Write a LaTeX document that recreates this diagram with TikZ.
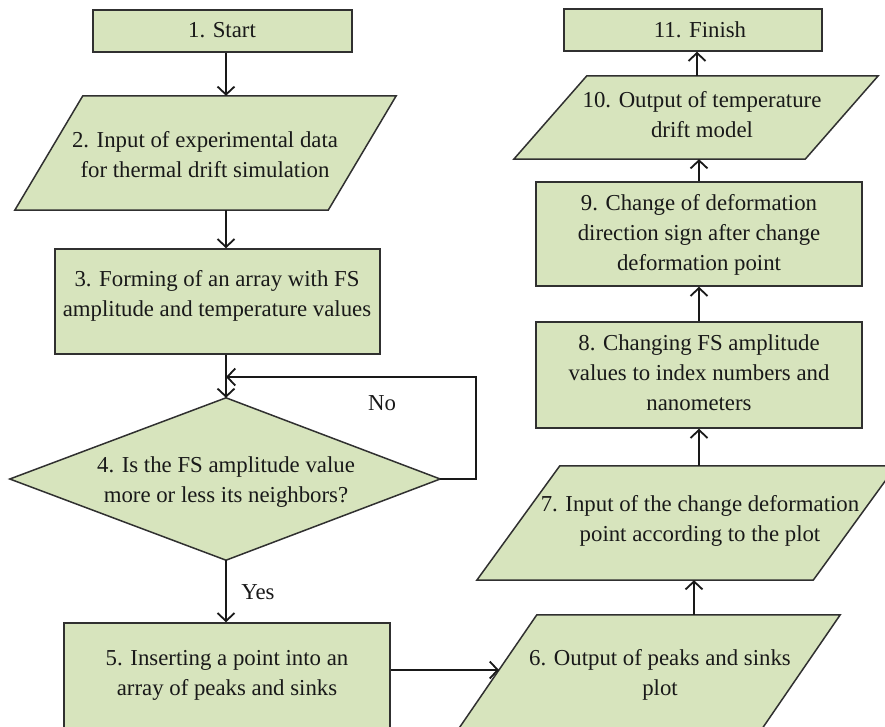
\documentclass[tikz,border=0pt]{standalone}
\usepackage{fontspec}
\setmainfont{Liberation Serif}
\usetikzlibrary{arrows.meta,backgrounds}
\definecolor{boxfill}{HTML}{D7E4BD}
\definecolor{edge}{HTML}{303030}
\tikzset{
  shp/.style={draw=edge, line width=1.5pt, fill=boxfill},
  bx/.style={shp, rectangle, inner sep=0pt},
  frame/.style={rectangle, draw=none, inner sep=0pt},
  txt/.style={align=center, inner sep=0pt, font=\fontsize{22.8}{30}\selectfont, text=black!90},
  arr/.style={draw=black!90, line width=1.8pt, -{Straight Barb[length=8pt,width=17pt,line width=1.8pt]}},
  ln/.style={draw=black!90, line width=1.8pt}
}
\begin{document}
\begin{tikzpicture}[x=1pt,y=-1pt]
\clip (0,0) rectangle (885,727);
\fill[white] (0,0) rectangle (885,727);
% rectangles
\node[bx, minimum width=259, minimum height=42] (b1) at (222.5,31) {};
\node[bx, minimum width=325, minimum height=105] (b3) at (217.5,301.5) {};
\node[bx, minimum width=326, minimum height=122] (b5) at (227,684) {};
\node[bx, minimum width=326, minimum height=106] (b8) at (699,375) {};
\node[bx, minimum width=326, minimum height=104] (b9) at (699,234) {};
\node[bx, minimum width=258, minimum height=42] (b11) at (693,30) {};
% parallelogram frames
\node[frame, minimum width=381, minimum height=114] (p2) at (205.5,153) {};
\node[frame, minimum width=389, minimum height=125] (p6) at (645.5,677.5) {};
\node[frame, minimum width=419, minimum height=114] (p7) at (686.5,523) {};
\node[frame, minimum width=364, minimum height=83] (p10) at (696,117.5) {};
\node[frame, minimum width=430, minimum height=162] (d4) at (225,479) {};
\draw[shp] ([xshift=68pt]p2.north west) -- (p2.north east) -- ([xshift=-68pt]p2.south east) -- (p2.south west) -- cycle;
\draw[shp] ([xshift=86pt]p6.north west) -- (p6.north east) -- ([xshift=-86pt]p6.south east) -- (p6.south west) -- cycle;
\draw[shp] ([xshift=83pt]p7.north west) -- (p7.north east) -- ([xshift=-83pt]p7.south east) -- (p7.south west) -- cycle;
\draw[shp] ([xshift=73pt]p10.north west) -- (p10.north east) -- ([xshift=-73pt]p10.south east) -- (p10.south west) -- cycle;
\draw[shp] ([xshift=1pt]d4.north) -- (d4.east) -- ([xshift=1pt]d4.south) -- (d4.west) -- cycle;
% texts
\node[txt] (t1) at (222,30) {1. Start};
\node[txt] (t2) at (205,155) {2. Input of experimental data\\for thermal drift simulation};
\node[txt] (t3) at (217,296) {3. Forming of an array with FS\\amplitude and temperature values};
\node[txt] (t4) at (226,482) {4. Is the FS amplitude value\\more or less its neighbors?};
\node[txt] (t5) at (227,675) {5. Inserting a point into an\\array of peaks and sinks};
\node[txt] (t6) at (660,675) {6. Output of peaks and sinks\\plot};
\node[txt] (t7) at (700,521) {7. Input of the change deformation\\point according to the plot};
\node[txt] (t8) at (699,373) {8. Changing FS amplitude\\values to index numbers and\\nanometers};
\node[txt] (t9) at (699,235) {9. Change of deformation\\direction sign after change\\deformation point};
\node[txt] (t10) at (702,115) {10. Output of temperature\\drift model};
\node[txt] (t11) at (700,30) {11. Finish};
\node[txt] (no) at (382,403) {No};
\node[txt] (yes) at (258,592) {Yes};
% connector helpers
\coordinate (ax1) at (226,0);
\coordinate (ax2) at (694,0);
\coordinate (ax3) at (699,0);
\coordinate (ax4) at (697,0);
\coordinate (lp) at (476,377);
\coordinate (e6) at (499,670);
% connectors
\draw[arr] (b1.south -| ax1) -- (p2.north -| ax1);
\draw[arr] (p2.south -| ax1) -- (b3.north -| ax1);
\draw[arr] (b3.south -| ax1) -- ([xshift=1pt]d4.north);
\draw[arr] (d4.east) -| (lp) -- (lp -| ax1);
\draw[arr] ([xshift=1pt]d4.south) -- (b5.north -| ax1);
\draw[arr] (b5.east |- e6) -- (e6);
\draw[arr] (p6.north -| ax2) -- (p7.south -| ax2);
\draw[arr] (p7.north -| ax3) -- (b8.south -| ax3);
\draw[arr] (b8.north -| ax3) -- (b9.south -| ax3);
\draw[arr] (b9.north -| ax3) -- (p10.south -| ax3);
\draw[arr] (p10.north -| ax4) -- (b11.south -| ax4);
\end{tikzpicture}
\end{document}
